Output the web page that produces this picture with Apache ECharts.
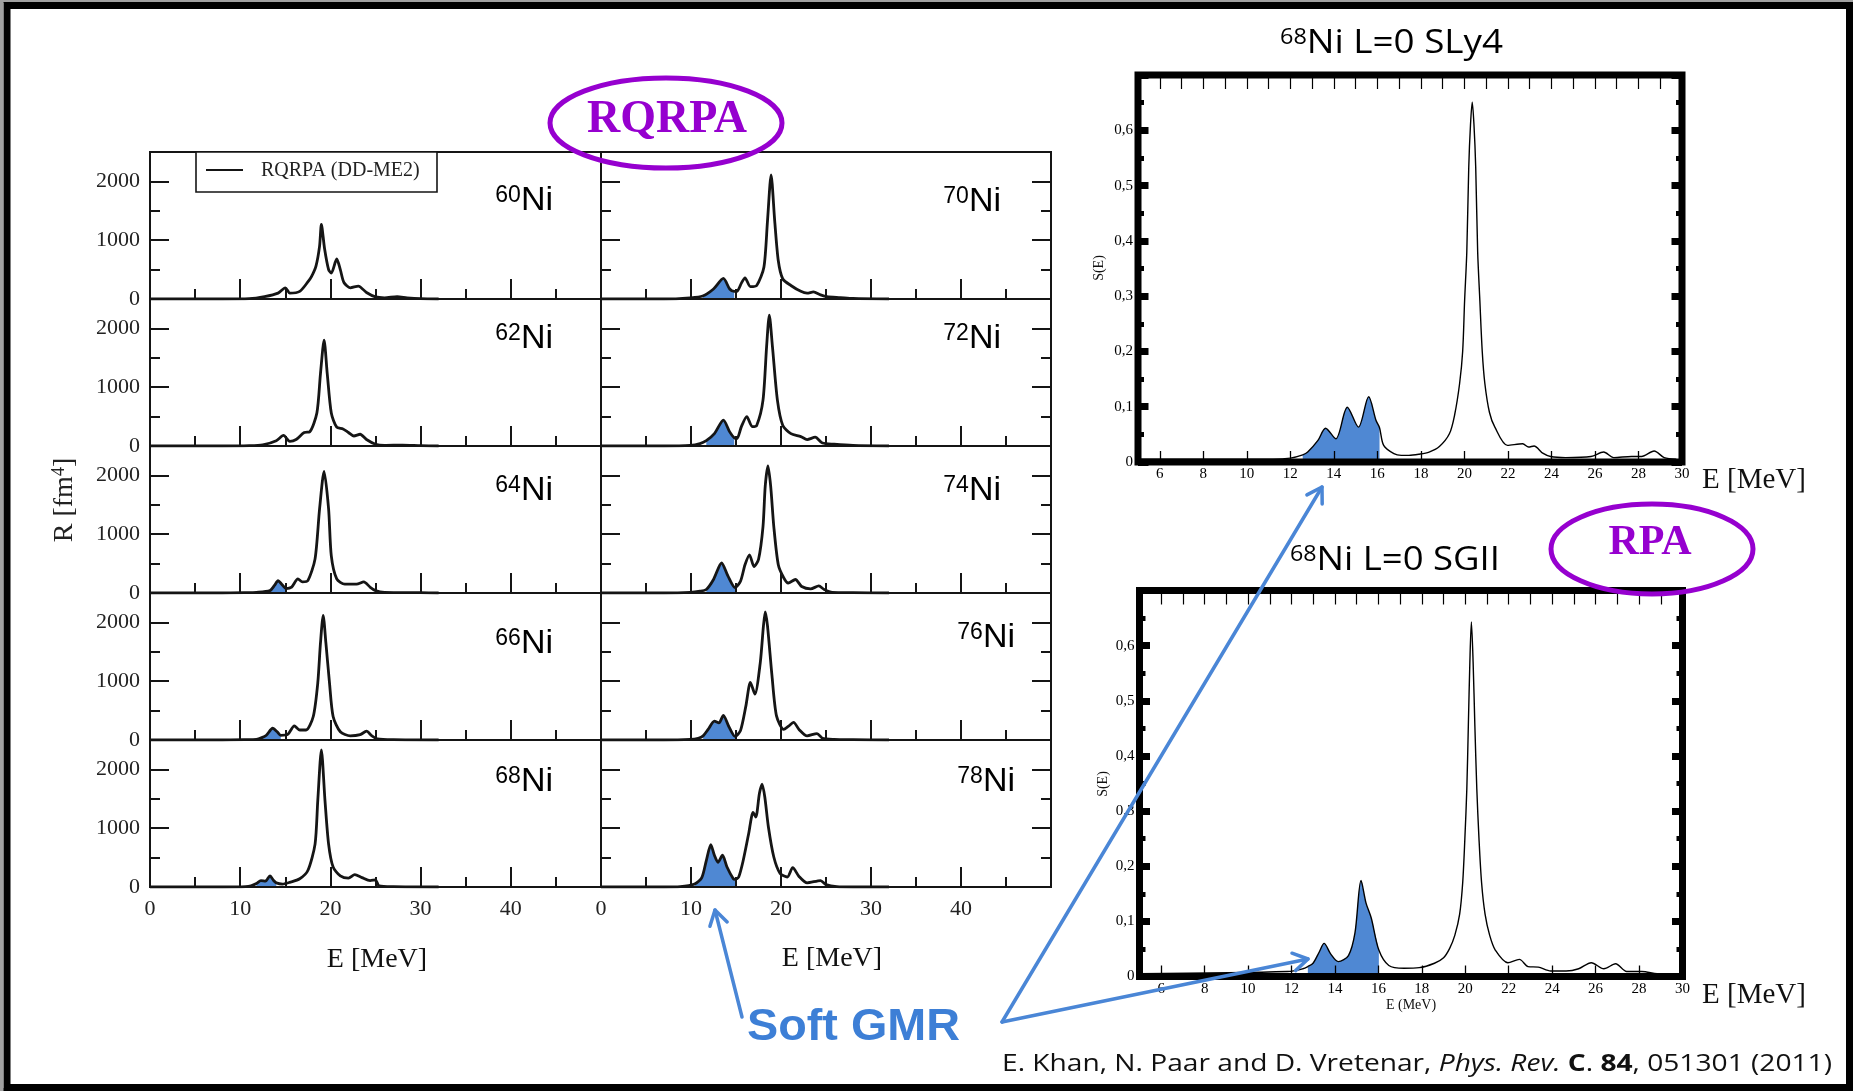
<!DOCTYPE html>
<html>
<head>
<meta charset="utf-8">
<title>Soft monopole resonance in Ni isotopes</title>
<script src="https://cdn.jsdelivr.net/npm/echarts@6/dist/echarts.min.js"></script>
<style>
html,body{margin:0;padding:0;background:#fff;}
#chart{width:1853px;height:1091px;}
</style>
</head>
<body>
<div id="chart"></div>
<script>
// ---- RQRPA (DD-ME2) isoscalar monopole strength R(E) [fm^4]; pairs [E (MeV), R] ----
const ni60 = [[0,0],[8,0],[11,5],[12.7,40],[14.2,100],[15.0,190],[15.5,100],[16.6,130],[17.5,290],[17.9,380],[18.4,560],[18.8,900],[19.0,1270],[19.35,860],[19.8,500],[20.1,440],[20.7,680],[21.1,500],[21.5,280],[22.2,190],[23.1,220],[24.0,110],[25.0,35],[26.0,20],[27.4,40],[28.5,20],[30,5],[32,0]];
const ni62 = [[0,0],[8,0],[11,5],[12.5,20],[14.0,90],[14.8,180],[15.5,80],[16.2,110],[17.1,230],[17.7,240],[18.5,560],[18.9,1230],[19.3,1800],[19.65,1230],[20.1,560],[20.7,320],[21.4,290],[22.0,230],[22.6,170],[23.3,200],[24.0,110],[25.0,30],[26,10],[28,15],[30,5],[32,0]];
const ni64 = [[0,0],[8,0],[10.5,5],[11.8,10],[13.3,40],[13.8,130],[14.2,210],[14.6,150],[15.1,75],[15.7,100],[16.4,240],[16.9,190],[17.5,210],[18.3,580],[18.8,1430],[19.3,2070],[19.8,1430],[20.1,630],[20.7,240],[21.6,150],[22.9,150],[23.7,190],[24.4,100],[25.0,40],[26,10],[30,5],[32,0]];
const ni66 = [[0,0],[8,0],[10.5,5],[11.8,10],[12.4,40],[12.9,80],[13.6,200],[14.1,140],[14.5,80],[15.3,100],[16.0,240],[16.6,170],[17.3,170],[18.1,400],[18.6,970],[18.9,1650],[19.2,2120],[19.5,1650],[19.9,970],[20.3,400],[21.1,140],[22.2,70],[23.3,90],[24.0,150],[24.6,70],[25.2,20],[27,5],[32,0]];
const ni68 = [[0,0],[8,0],[10.6,5],[11.2,20],[11.8,60],[12.3,110],[12.8,100],[13.3,190],[13.7,110],[14.0,70],[14.7,50],[15.5,80],[16.6,140],[17.5,280],[18.3,730],[18.6,1470],[19.0,2330],[19.4,1470],[19.8,730],[20.3,340],[21.1,190],[22.0,150],[22.7,210],[23.5,160],[24.4,110],[25.0,120],[25.4,20],[27,5],[32,0]];
const ni70 = [[0,0],[7,0],[9.9,20],[11.3,50],[12.5,170],[13.6,350],[14.3,170],[14.8,130],[15.1,130],[15.6,270],[16.0,360],[16.6,210],[17.3,230],[18.1,540],[18.5,1330],[18.9,2110],[19.3,1330],[19.7,650],[20.2,340],[21.1,230],[22.2,130],[22.9,100],[23.6,120],[24.4,70],[25.1,40],[26.6,25],[28,10],[32,0]];
const ni72 = [[0,0],[7,0],[9.9,10],[11.0,40],[11.7,90],[12.6,210],[13.6,440],[14.3,240],[14.8,140],[15.1,125],[15.6,330],[16.2,500],[16.8,330],[17.3,350],[18.0,780],[18.4,1690],[18.7,2225],[19.05,1690],[19.6,780],[20.2,350],[21.1,210],[22.2,160],[22.9,110],[23.8,150],[24.6,50],[25.9,30],[28,10],[32,0]];
const ni74 = [[0,0],[7,0],[9.9,10],[11.0,30],[11.7,60],[12.5,230],[13.4,510],[14.1,290],[14.9,90],[15.5,200],[16.0,480],[16.5,650],[17.0,450],[17.5,570],[18.0,1130],[18.25,1820],[18.55,2160],[18.85,1820],[19.2,1130],[19.7,480],[20.3,260],[20.8,170],[21.6,230],[22.3,110],[23.3,70],[24.2,120],[24.8,60],[25.7,10],[28,5],[32,0]];
const ni76 = [[0,0],[7,0],[9.9,10],[10.8,30],[11.35,70],[11.9,180],[12.6,320],[13.1,290],[13.6,420],[14.2,230],[14.9,60],[15.5,160],[16.1,580],[16.6,980],[17.1,780],[17.7,1320],[18.05,1940],[18.25,2180],[18.5,1940],[19.0,1090],[19.5,410],[20.3,180],[20.8,230],[21.4,300],[22.0,180],[22.9,70],[24.0,110],[24.6,30],[25.9,10],[28,5],[32,0]];
const ni78 = [[0,0],[7,0],[8.8,5],[10.4,50],[11.2,160],[11.7,450],[12.2,720],[12.6,540],[13.0,420],[13.5,540],[14.0,340],[14.7,140],[14.9,130],[15.3,170],[15.8,450],[16.4,900],[16.9,1270],[17.2,1190],[17.6,1590],[17.9,1750],[18.2,1530],[18.6,1020],[19.2,510],[19.9,230],[20.7,170],[21.3,330],[22.0,180],[22.9,70],[24.4,110],[25.0,40],[26.2,5],[28,0],[32,0]];

// ---- RPA strength function S(E) of 68Ni, L=0; pairs [E (MeV), S] ----
const sly4 = [[5,0.005],[11.2,0.005],[12.0,0.007],[12.57,0.013],[12.8,0.018],[13.27,0.039],[13.62,0.061],[14.09,0.042],[14.62,0.099],[15.13,0.063],[15.6,0.118],[15.94,0.075],[16.1,0.062],[16.29,0.030],[16.76,0.015],[17.1,0.012],[17.45,0.012],[17.9,0.014],[18.38,0.018],[18.85,0.028],[19.31,0.051],[19.55,0.085],[19.78,0.142],[19.92,0.2],[20.01,0.292],[20.11,0.38],[20.2,0.533],[20.28,0.61],[20.36,0.651],[20.44,0.61],[20.52,0.533],[20.61,0.38],[20.71,0.292],[20.82,0.2],[20.94,0.142],[21.15,0.09],[21.4,0.063],[21.98,0.030],[22.68,0.033],[22.95,0.027],[23.2,0.029],[23.6,0.016],[23.96,0.010],[24.65,0.008],[25.82,0.010],[26.4,0.018],[26.86,0.008],[27.68,0.010],[28.14,0.010],[28.72,0.020],[29.18,0.008],[29.74,0.005]];
const sgii = [[5,0.005],[11.82,0.009],[12.52,0.014],[12.75,0.018],[12.99,0.024],[13.27,0.044],[13.5,0.060],[13.8,0.041],[14.15,0.027],[14.62,0.038],[14.92,0.079],[15.2,0.174],[15.43,0.133],[15.67,0.106],[16.02,0.048],[16.48,0.020],[17.18,0.015],[17.88,0.016],[18.58,0.024],[19.0,0.034],[19.28,0.051],[19.52,0.075],[19.74,0.113],[19.88,0.17],[19.98,0.25],[20.07,0.34],[20.14,0.455],[20.21,0.57],[20.28,0.643],[20.36,0.57],[20.44,0.455],[20.53,0.34],[20.63,0.25],[20.75,0.17],[20.91,0.113],[21.12,0.075],[21.38,0.048],[21.96,0.025],[22.49,0.031],[22.89,0.018],[23.36,0.017],[23.94,0.010],[24.64,0.010],[25.22,0.014],[25.8,0.025],[26.38,0.014],[26.92,0.023],[27.43,0.009],[28.13,0.009],[28.83,0.005],[30,0.003]];

// ---- energy windows of the soft monopole mode [E_low, E_high] (MeV) ----
const soft64 = [13.3, 15.1];
const soft66 = [12.4, 14.5];
const soft68 = [11.8, 14.0];
const soft70 = [11.3, 14.8];
const soft72 = [11.7, 14.8];
const soft74 = [11.7, 14.9];
const soft76 = [11.35, 14.9];
const soft78 = [10.4, 14.9];
const softSly4 = [12.57, 16.1];
const softSgii = [12.75, 16.02];

// ---- tick and label values ----
const eTicksMajor = [0, 10, 20, 30, 40, 50];
const eTicksMinor = [5, 15, 25, 35, 45];
const eLabels = [0, 10, 20, 30, 40];
const rTicksMajor = [0, 1000, 2000];
const rTicksMinor = [500, 1500];
const rLabels = [0, 1000, 2000];
const rpaLabels = [6, 8, 10, 12, 14, 16, 18, 20, 22, 24, 26, 28, 30];
const rpaTopTicks = [6, 7, 8, 9, 10, 11, 12, 13, 14, 15, 16, 17, 18, 19, 20, 21, 22, 23, 24, 25, 26, 27, 28, 29];

const panels = [
  {mass: '60', data: ni60, soft: null},
  {mass: '62', data: ni62, soft: null},
  {mass: '64', data: ni64, soft: soft64},
  {mass: '66', data: ni66, soft: soft66},
  {mass: '68', data: ni68, soft: soft68},
  {mass: '70', data: ni70, soft: soft70},
  {mass: '72', data: ni72, soft: soft72},
  {mass: '74', data: ni74, soft: soft74},
  {mass: '76', data: ni76, soft: soft76},
  {mass: '78', data: ni78, soft: soft78}
];

// ---- layout ----
const SERIF = '"Liberation Serif", "Times New Roman", serif';
const SANS = '"Liberation Sans", Arial, sans-serif';
const SLIDE = '"Open Sans", "Noto Sans", sans-serif';
const INK = '#151515';
const SOFT = '#4f88d3';
const ARROW = '#4a86d6';
const PURPLE = '#9600cf';
const GMR = '#3d7fd6';

const colLeft = [150, 601], colWidth = [451, 450];
const rowTop0 = 152, rowH = 147;
const massLabelPos = [[553,213],[553,351],[553,503],[553,656],[553,794],[1001,214],[1001,351],[1001,503],[1015,650],[1015,794]];

const grids = [], xAxes = [], yAxes = [], series = [];

function eAxis(g, ticks, len, labels) {
  return {
    type: 'value', gridIndex: g, min: 0, max: 50, position: 'bottom', z: 5,
    axisLine: {show: false, onZero: false}, splitLine: {show: false},
    axisTick: {show: true, inside: true, length: len, customValues: ticks, lineStyle: {color: INK, width: 2}},
    axisLabel: labels ? {show: true, customValues: labels, margin: 11, color: '#222', fontFamily: SERIF, fontSize: 22, formatter: v => String(v)} : {show: false}
  };
}
function rAxis(g, side, ticks, len, labels) {
  return {
    type: 'value', gridIndex: g, min: 0, max: 2500, position: side, z: 5,
    axisLine: {show: false, onZero: false}, splitLine: {show: false},
    axisTick: {show: true, inside: true, length: len, customValues: ticks, lineStyle: {color: INK, width: 2}},
    axisLabel: labels ? {show: true, customValues: labels, margin: 10, color: '#222', fontFamily: SERIF, fontSize: 22, formatter: v => String(v)} : {show: false}
  };
}

panels.forEach((p, g) => {
  const col = g < 5 ? 0 : 1, row = g % 5;
  grids.push({left: colLeft[col], top: rowTop0 + rowH * row, width: colWidth[col], height: rowH,
    show: true, borderColor: INK, borderWidth: 2, backgroundColor: 'transparent', z: 5, outerBoundsMode: 'none'});
  const xi = xAxes.length;
  xAxes.push(eAxis(g, eTicksMajor, 20, row === 4 ? eLabels : null));
  xAxes.push(eAxis(g, eTicksMinor, 10, null));
  const yi = yAxes.length;
  yAxes.push(rAxis(g, 'left', rTicksMajor, 19, col === 0 ? rLabels : null));
  yAxes.push(rAxis(g, 'left', rTicksMinor, 10, null));
  if (col === 1) {
    yAxes.push(rAxis(g, 'right', rTicksMajor, 19, null));
    yAxes.push(rAxis(g, 'right', rTicksMinor, 10, null));
  }
  series.push({type: 'line', name: 'RQRPA (DD-ME2)', xAxisIndex: xi, yAxisIndex: yi, data: p.data,
    showSymbol: false, smooth: 0.25, z: 3,
    lineStyle: {color: INK, width: 2.8, join: 'round'}});
  if (p.soft) {
    series.push({type: 'line', name: 'soft ' + p.mass, xAxisIndex: xi, yAxisIndex: yi,
      data: p.data.filter(d => d[0] >= p.soft[0] && d[0] <= p.soft[1]),
      showSymbol: false, smooth: 0.25, z: 2,
      lineStyle: {width: 0, opacity: 0}, areaStyle: {color: SOFT, opacity: 1}});
  }
});

// ---- RPA panels ----
const rpaPanels = [
  {data: sly4, soft: softSly4, box: {left: 1138, top: 75, width: 544, height: 387}},
  {data: sgii, soft: softSgii, box: {left: 1139.5, top: 590.5, width: 543, height: 386}}
];
function rpaY(g, side, labels) {
  return {
    type: 'value', gridIndex: g, min: 0, max: 0.7, interval: 0.1, position: side, z: 5,
    axisLine: {show: false, onZero: false}, splitLine: {show: false},
    axisTick: {show: true, inside: true, length: 10.5, lineStyle: {color: '#000', width: 7}},
    minorTick: {show: true, splitNumber: 2, length: 6, lineStyle: {color: '#000', width: 5}},
    axisLabel: labels ? {show: true, margin: 5, color: '#000', fontFamily: SERIF, fontSize: 15,
      formatter: v => v > 0.65 ? '' : (v === 0 ? '0' : v.toFixed(1).replace('.', ','))} : {show: false}
  };
}
rpaPanels.forEach((p) => {
  const g = grids.length;
  grids.push(Object.assign({show: true, borderColor: '#000', borderWidth: 7, backgroundColor: 'transparent', z: 5, outerBoundsMode: 'none'}, p.box));
  const xi = xAxes.length;
  xAxes.push({type: 'value', gridIndex: g, min: 5, max: 30, position: 'bottom', z: 5,
    axisLine: {show: false, onZero: false}, splitLine: {show: false},
    axisTick: {show: true, inside: true, length: 11, customValues: rpaLabels, lineStyle: {color: '#000', width: 1.3}},
    axisLabel: {show: true, customValues: rpaLabels, margin: 5, color: '#000', fontFamily: SERIF, fontSize: 15}});
  xAxes.push({type: 'value', gridIndex: g, min: 5, max: 30, position: 'top', z: 5,
    axisLine: {show: false, onZero: false}, splitLine: {show: false},
    axisTick: {show: true, inside: true, length: 14, customValues: rpaTopTicks, lineStyle: {color: '#000', width: 1.2}},
    axisLabel: {show: false}});
  const yi = yAxes.length;
  yAxes.push(rpaY(g, 'left', true));
  yAxes.push(rpaY(g, 'right', false));
  series.push({type: 'line', name: 'RPA', xAxisIndex: xi, yAxisIndex: yi, data: p.data,
    showSymbol: false, smooth: 0.3, z: 3, lineStyle: {color: '#000', width: 1.4, join: 'round'}});
  series.push({type: 'line', name: 'RPA soft', xAxisIndex: xi, yAxisIndex: yi,
    data: p.data.filter(d => d[0] >= p.soft[0] && d[0] <= p.soft[1]),
    showSymbol: false, smooth: 0.3, z: 2,
    lineStyle: {width: 0, opacity: 0}, areaStyle: {color: SOFT, opacity: 1}});
});

// ---- text helpers ----
const mctx = document.createElement('canvas').getContext('2d');
function measure(parts) {
  let w = 0;
  parts.forEach(([t, f]) => { mctx.font = f; w += mctx.measureText(t).width; });
  return w;
}
function plain(text, x, y, font, opts) {
  return Object.assign({type: 'text', x, y, z: 100,
    style: {text, font, fill: '#111', align: 'center', verticalAlign: 'middle'}}, opts || {});
}
function massLabel(mass, pos) {
  return {type: 'text', x: pos[0], y: pos[1] - 12, z: 100,
    style: {text: '{s|' + mass + '}{n|Ni}', align: 'right', verticalAlign: 'middle',
      rich: {s: {fontSize: 23, fontFamily: SANS, lineHeight: 16, verticalAlign: 'top', fill: '#000'},
             n: {fontSize: 34, fontFamily: SANS, lineHeight: 34, fill: '#000'}}}};
}
function rpaTitle(name, x, yMid, width) {
  const sx = width / measure([['68', '21px ' + SLIDE], ['Ni L=0 ' + name, '33px ' + SLIDE]]);
  return {type: 'text', x, y: yMid, scaleX: sx, z: 100,
    style: {text: '{s|68}{t|Ni L=0 ' + name + '}', align: 'left', verticalAlign: 'middle',
      rich: {s: {fontSize: 21, fontFamily: SLIDE, lineHeight: 16, verticalAlign: 'top', fill: '#000'},
             t: {fontSize: 33, fontFamily: SLIDE, lineHeight: 33, fill: '#000'}}}};
}
function arrow(x1, y1, x2, y2) {
  const a = Math.atan2(y2 - y1, x2 - x1), L = 17, h = 0.55;
  const p1 = [x2 - L * Math.cos(a - h), y2 - L * Math.sin(a - h)];
  const p2 = [x2 - L * Math.cos(a + h), y2 - L * Math.sin(a + h)];
  return [
    {type: 'line', z: 110, shape: {x1, y1, x2, y2}, style: {stroke: ARROW, lineWidth: 3.5, lineCap: 'round'}},
    {type: 'polyline', z: 110, shape: {points: [p1, [x2, y2], p2]}, style: {stroke: ARROW, lineWidth: 3.5, fill: 'none', lineJoin: 'round', lineCap: 'round'}}
  ];
}

const bigE = '30px ' + SERIF;
const bigEScale = 104 / measure([['E [MeV]', bigE]]);
const gmrFont = 'bold 44px ' + SANS;
const gmrScale = 213 / measure([['Soft GMR', gmrFont]]);
const citeFont = '23px ' + SLIDE;
const citeScale = 830 / measure([
  ['E. Khan, N. Paar and D. Vretenar, ', citeFont], ['Phys. Rev.', 'italic ' + citeFont], [' ', citeFont],
  ['C', 'bold ' + citeFont], ['. ', citeFont], ['84', 'bold ' + citeFont], [', 051301 (2011)', citeFont]]);

const graphics = [
  // slide frame
  {type: 'rect', z: 90, shape: {x: 0, y: 0, width: 1853, height: 1091}, style: {fill: 'none', stroke: '#a0a0a0', lineWidth: 6}},
  {type: 'rect', z: 91, shape: {x: 7, y: 5.5, width: 1842.5, height: 1082}, style: {fill: 'none', stroke: '#000', lineWidth: 7}},
  // legend box of the RQRPA figure
  {type: 'rect', z: 100, shape: {x: 196, y: 152, width: 241, height: 40}, style: {fill: '#fff', stroke: INK, lineWidth: 1.6}},
  {type: 'line', z: 101, shape: {x1: 206, y1: 170, x2: 243, y2: 170}, style: {stroke: INK, lineWidth: 2}},
  {type: 'text', z: 101, x: 261, y: 171, style: {text: 'RQRPA (DD-ME2)', font: '20px ' + SERIF, fill: '#222', align: 'left', verticalAlign: 'middle'}},
  // axis titles of the RQRPA figure
  plain('E [MeV]', 377, 960, '28px ' + SERIF),
  plain('E [MeV]', 832, 959, '28px ' + SERIF),
  {type: 'text', z: 100, x: 65, y: 500, rotation: Math.PI / 2,
    style: {text: '{a|R [fm}{s|4}{a|]}', align: 'center', verticalAlign: 'middle',
      rich: {a: {fontSize: 28, fontFamily: SERIF, lineHeight: 30, fill: '#222'},
             s: {fontSize: 18, fontFamily: SERIF, lineHeight: 18, verticalAlign: 'top', fill: '#222'}}}},
  // model tags
  {type: 'ellipse', z: 100, shape: {cx: 666, cy: 123, rx: 116, ry: 45}, style: {fill: 'none', stroke: PURPLE, lineWidth: 5}},
  {type: 'text', z: 100, x: 667, y: 120, style: {text: 'RQRPA', font: 'bold 46px ' + SERIF, fill: PURPLE, align: 'center', verticalAlign: 'middle'}},
  {type: 'ellipse', z: 100, shape: {cx: 1652, cy: 549, rx: 101, ry: 45}, style: {fill: 'none', stroke: PURPLE, lineWidth: 5}},
  {type: 'text', z: 100, x: 1650, y: 543, style: {text: 'RPA', font: 'bold 42px ' + SERIF, fill: PURPLE, align: 'center', verticalAlign: 'middle'}},
  // RPA panel titles and axis names
  rpaTitle('SLy4', 1280, 44, 223),
  rpaTitle('SGII', 1290, 561, 210),
  plain('S(E)', 1099, 268, '14px ' + SERIF, {rotation: Math.PI / 2}),
  plain('S(E)', 1103, 784, '14px ' + SERIF, {rotation: Math.PI / 2}),
  plain('E (MeV)', 1411, 1005, '14px ' + SERIF),
  {type: 'text', z: 100, x: 1702, y: 480, scaleX: bigEScale, style: {text: 'E [MeV]', font: bigE, fill: '#111', align: 'left', verticalAlign: 'middle'}},
  {type: 'text', z: 100, x: 1702, y: 995, scaleX: bigEScale, style: {text: 'E [MeV]', font: bigE, fill: '#111', align: 'left', verticalAlign: 'middle'}},
  // soft GMR annotation
  {type: 'text', z: 110, x: 747, y: 1028, scaleX: gmrScale, style: {text: 'Soft GMR', font: gmrFont, fill: GMR, align: 'left', verticalAlign: 'middle'}},
  ...arrow(742, 1017, 715, 910),
  ...arrow(1002, 1022, 1322, 487),
  ...arrow(1002, 1022, 1308, 959),
  // reference
  {type: 'text', z: 100, x: 1002, y: 1064, scaleX: citeScale,
    style: {text: 'E. Khan, N. Paar and D. Vretenar, {i|Phys. Rev.} {b|C}. {b|84}, 051301 (2011)',
      font: citeFont, fill: '#111', align: 'left', verticalAlign: 'middle',
      rich: {i: {fontSize: 23, fontFamily: SLIDE, fontStyle: 'italic', fill: '#111'},
             b: {fontSize: 23, fontFamily: SLIDE, fontWeight: 'bold', fill: '#111'}}}}
];
panels.forEach((p, g) => graphics.push(massLabel(p.mass, massLabelPos[g])));

const chart = echarts.init(document.getElementById('chart'), null, {renderer: 'canvas'});
chart.setOption({
  animation: false,
  backgroundColor: '#ffffff',
  grid: grids,
  xAxis: xAxes,
  yAxis: yAxes,
  series: series,
  graphic: {elements: graphics}
});
</script>
</body>
</html>
